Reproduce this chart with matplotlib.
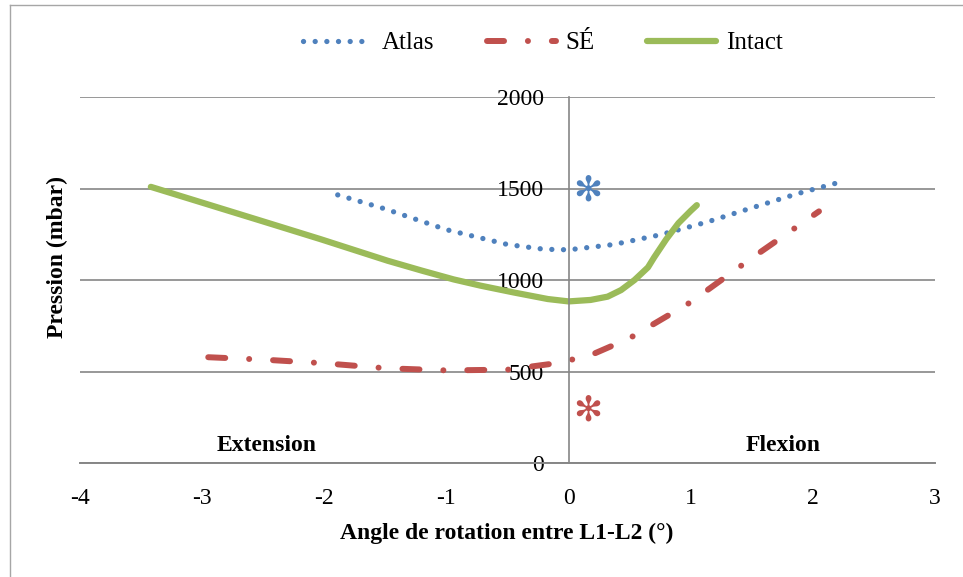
import matplotlib.pyplot as plt
from matplotlib.lines import Line2D

plt.rcParams["font.family"] = ["Liberation Serif", "DejaVu Serif"]
plt.rcParams["axes.unicode_minus"] = False

# values
atlas_x = [-1.89, -1.5, -1.0, -0.5, -0.2, 0.0, 0.37, 0.75, 1.13, 1.5, 1.87, 2.24]
atlas_y = [1465, 1388, 1275, 1194, 1168, 1165, 1194, 1247, 1316, 1394, 1471, 1538]

se_x = [-2.95, -2.5, -2.0, -1.5, -1.0, -0.5, -0.07, 0.2, 0.5, 1.0, 1.5, 2.05]
se_y = [578, 565, 545, 518, 506, 510, 548, 595, 682, 879, 1120, 1375]

intact_x = [-3.42, -2.5, -2.03, -1.48, -1.2, -0.94, -0.72, -0.45, -0.17, 0.0,
            0.18, 0.32, 0.43, 0.54, 0.65, 0.7, 0.8, 0.9, 1.0, 1.05]
intact_y = [1509, 1320, 1223, 1105, 1051, 1003, 969, 932, 896, 883,
            891, 909, 945, 1000, 1069, 1123, 1223, 1311, 1378, 1409]

x_ticks = [-4, -3, -2, -1, 0, 1, 2, 3]
y_ticks = [0, 500, 1000, 1500, 2000]

BLUE = "#4F81BD"
RED = "#C0504D"
GREEN = "#9BBB59"
GRID = "#868686"

W, H = 963, 577
fig = plt.figure(figsize=(W / 100, H / 100), dpi=100)
ax = fig.add_axes([80 / W, 1 - 463 / H, (935 - 80) / W, (463 - 97) / H])

ax.plot(atlas_x, atlas_y, color=BLUE, lw=3.8, linestyle=(0, (0.01, 2.2)),
        dash_capstyle="round", label="Atlas")
ax.plot(se_x, se_y, color=RED, lw=4.3, linestyle=(0, (2.85, 4.0, 0.01, 4.0)),
        dash_capstyle="round", label="SÉ")
ax.plot(intact_x, intact_y, color=GREEN, lw=4.5, solid_capstyle="round",
        solid_joinstyle="round", label="Intact")

ax.set_xlim(-4, 3)
ax.set_ylim(0, 2000)
ax.set_xticks(x_ticks)
ax.set_yticks(y_ticks)
ax.yaxis.grid(True, color=GRID, lw=1.2)
ax.set_axisbelow(True)

for side in ("top", "right"):
    ax.spines[side].set_visible(False)
ax.spines["left"].set_position(("data", 0))
ax.spines["left"].set_color(GRID)
ax.spines["left"].set_linewidth(1.2)
ax.spines["bottom"].set_color(GRID)
ax.spines["bottom"].set_linewidth(1.4)

ax.tick_params(axis="both", length=0, labelsize=17)
ax.tick_params(axis="y", pad=18)
ax.tick_params(axis="x", pad=18)

ax.text(-2.47, 97, "Extension", fontsize=17, fontweight="bold",
        ha="center", va="center")
ax.text(1.76, 97, "Flexion", fontsize=17, fontweight="bold",
        ha="center", va="center")

# significance markers
ax.text(0.155, 1487, "\u273B", family="DejaVu Sans", fontsize=25,
        color=BLUE, ha="center", va="center")
ax.text(0.155, 287, "\u273B", family="DejaVu Sans", fontsize=25,
        color=RED, ha="center", va="center")

fig.text(507 / W, 1 - 533 / H, "Angle de rotation entre L1-L2 (°)",
         fontsize=17, fontweight="bold", ha="center", va="center")
fig.text(57 / W, 1 - 257 / H, "Pression (mbar)", fontsize=17,
         fontweight="bold", rotation=90, ha="center", va="center")

fig.legend(loc="center", bbox_to_anchor=(543 / W, 1 - 43 / H), ncol=3,
           frameon=False, fontsize=18, handlelength=2.75,
           handletextpad=0.4, columnspacing=2.1)

# thin frame around the chart area (left and top edges visible)
fig.add_artist(Line2D([10 / W, 10 / W], [0, 1 - 5 / H],
                      transform=fig.transFigure, color="#a6a6a6", lw=1))
fig.add_artist(Line2D([10 / W, 1], [1 - 5 / H, 1 - 5 / H],
                      transform=fig.transFigure, color="#a6a6a6", lw=1))

fig.savefig("out.png", dpi=100)
